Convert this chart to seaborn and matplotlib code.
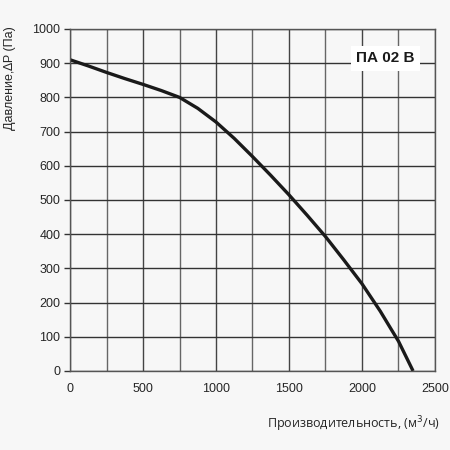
import pandas as pd
import matplotlib.pyplot as plt
import seaborn as sns

# Fan curve ПА 02 В
flow = [0, 125, 250, 375, 500, 625, 750, 875, 1000, 1125, 1250, 1375, 1500,
        1625, 1750, 1875, 2000, 2125, 2200, 2250, 2350]
pressure = [910, 892, 873, 855, 838, 820, 800, 768, 728, 680, 627, 572, 515,
            455, 393, 325, 255, 175, 122, 87, 0]
x_ticks = [0, 500, 1000, 1500, 2000, 2500]
y_ticks = [0, 100, 200, 300, 400, 500, 600, 700, 800, 900, 1000]

data = pd.DataFrame({'flow': flow, 'pressure': pressure})

sns.set_style('white')
plt.rcParams['font.family'] = ['Liberation Sans', 'DejaVu Sans']

fig = plt.figure(figsize=(4.5, 4.5), dpi=100, facecolor='#f7f7f7')
ax = fig.add_axes([0.1556, 0.1756, 0.811, 0.76], facecolor='#f7f7f7')

sns.lineplot(data=data, x='flow', y='pressure', ax=ax, color='#1a1a1a',
             linewidth=2.4, solid_capstyle='butt', solid_joinstyle='round')

ax.set_xlim(0, 2500)
ax.set_ylim(0, 1000)
ax.set_xticks(x_ticks)
ax.set_xticks(range(0, 2501, 250), minor=True)
ax.set_yticks(y_ticks)
ax.grid(True, which='minor', axis='x', color='#666666', linewidth=1)
ax.grid(True, which='major', axis='x', color='#444444', linewidth=1)
ax.grid(True, which='major', axis='y', color='#333333', linewidth=1)
ax.set_axisbelow(True)

for side in ['left', 'bottom', 'right', 'top']:
    ax.spines[side].set_color('#555555')
    ax.spines[side].set_linewidth(1)

ax.tick_params(axis='y', which='major', length=4, width=1, color='#333333', labelsize=9, pad=3, left=True)
ax.tick_params(axis='x', which='both', length=0, labelsize=9, pad=9)
ax.set_xlabel('')
ax.set_ylabel('')

ax.text(2160, 915, 'ПА 02 В', fontsize=11, fontweight='bold', ha='center', va='center',
        color='#1a1a1a', bbox=dict(facecolor='white', edgecolor='none', pad=4))

fig.text(0.978, 0.058, 'Производительность, (м$^3$/ч)', ha='right', va='center',
         fontsize=9, family=['Open Sans', 'DejaVu Sans'])
fig.text(0.022, 0.827, 'Давление,∆P (Па)', rotation=90, ha='center', va='center', fontsize=9)

plt.savefig('out.png', dpi=100, facecolor=fig.get_facecolor())
